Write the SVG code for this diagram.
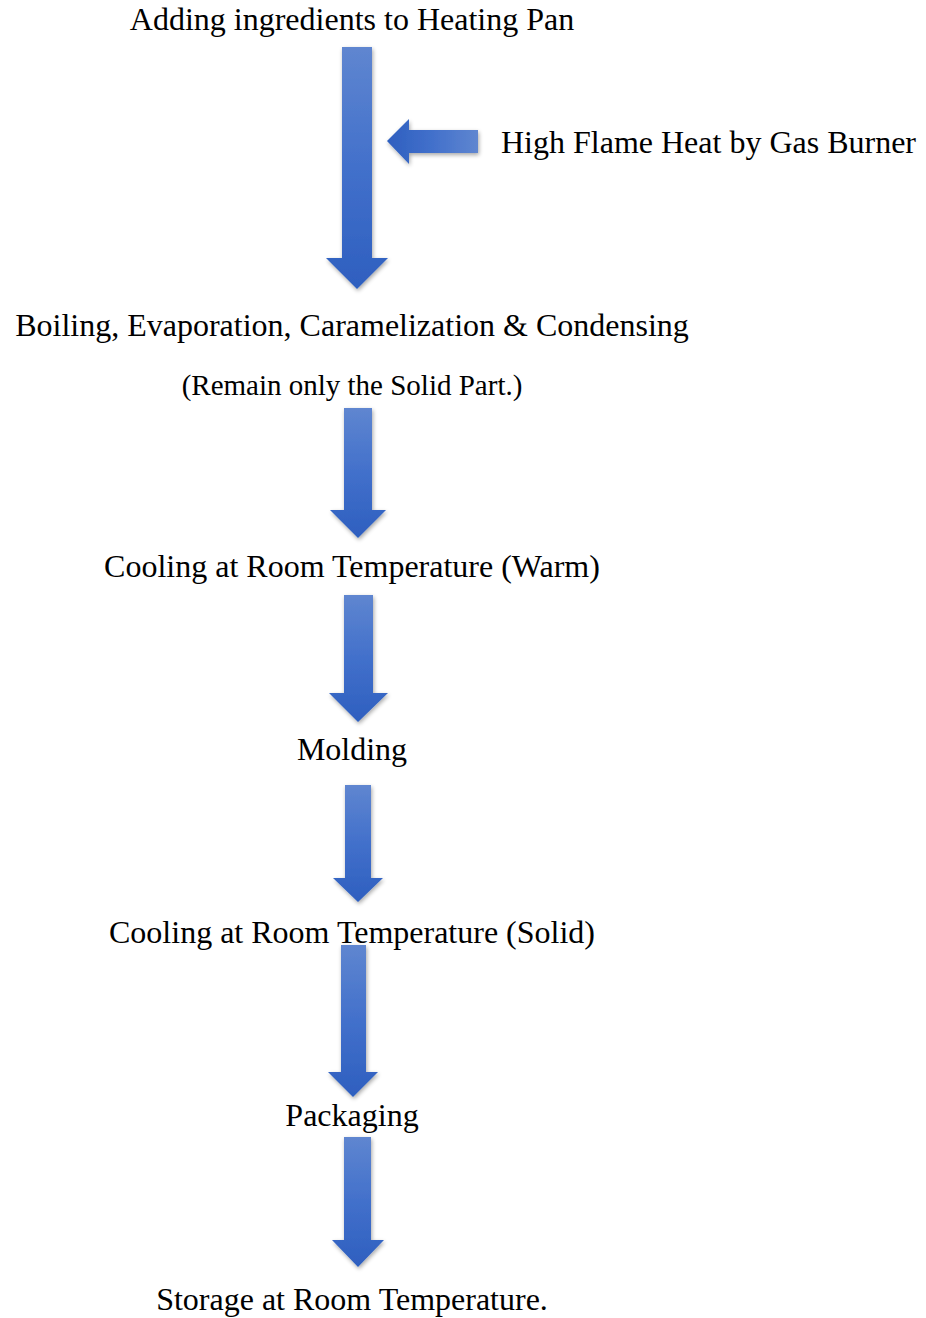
<svg xmlns="http://www.w3.org/2000/svg" width="926" height="1318" viewBox="0 0 926 1318">
  <style>
    .lbl { font-family: "Liberation Serif", "Times New Roman", serif; font-size: 32px; fill: #000; }
    .mid { text-anchor: middle; }
    .small { font-size: 29px; }
    .arrow { fill: url(#downGrad); filter: url(#shadow); }
    .arrowL { fill: url(#leftGrad); filter: url(#shadow); }
  </style>
  <defs>
    <linearGradient id="downGrad" x1="0" y1="0" x2="0" y2="1">
      <stop offset="0" stop-color="#5f86d0"/>
      <stop offset="0.5" stop-color="#4270cb"/>
      <stop offset="1" stop-color="#2e5fbf"/>
    </linearGradient>
    <linearGradient id="leftGrad" x1="1" y1="0" x2="0" y2="0">
      <stop offset="0" stop-color="#5f86d0"/>
      <stop offset="0.5" stop-color="#4270cb"/>
      <stop offset="1" stop-color="#2e5fbf"/>
    </linearGradient>
    <filter id="shadow" x="-30%" y="-10%" width="160%" height="120%">
      <feGaussianBlur in="SourceAlpha" stdDeviation="2"/>
      <feOffset dx="1" dy="2" result="b"/>
      <feComponentTransfer><feFuncA type="linear" slope="0.35"/></feComponentTransfer>
      <feMerge><feMergeNode/><feMergeNode in="SourceGraphic"/></feMerge>
    </filter>
  </defs>

  <g id="connectors">
    <polygon class="arrow" points="342,47 372,47 372,258 388,258 357,289 326,258 342,258"/>
    <polygon class="arrowL" points="478,130 478,153 409,153 409,164 387,141 409,119 409,130"/>
    <polygon class="arrow" points="344,408 372,408 372,510 386,510 358,538 330,510 344,510"/>
    <polygon class="arrow" points="344,595 373,595 373,693 388,693 358,722 329,693 344,693"/>
    <polygon class="arrow" points="345,785 371,785 371,878 383,878 358,902 333,878 345,878"/>
    <polygon class="arrow" points="341,945 366,945 366,1072 378,1072 353,1097 328,1072 341,1072"/>
    <polygon class="arrow" points="344,1137 371,1137 371,1240 384,1240 358,1267 332,1240 344,1240"/>
  </g>

  <g id="node-ingredients"><text class="lbl mid" x="352" y="30">Adding ingredients to Heating Pan</text></g>
  <g id="node-flame"><text class="lbl" x="501" y="153">High Flame Heat by Gas Burner</text></g>
  <g id="node-boiling">
    <text class="lbl mid" x="352" y="336">Boiling, Evaporation, Caramelization &amp; Condensing</text>
    <text class="lbl mid small" x="352" y="395">(Remain only the Solid Part.)</text>
  </g>
  <g id="node-cool-warm"><text class="lbl mid" x="352" y="577">Cooling at Room Temperature (Warm)</text></g>
  <g id="node-molding"><text class="lbl mid" x="352" y="760">Molding</text></g>
  <g id="node-cool-solid"><text class="lbl mid" x="352" y="943">Cooling at Room Temperature (Solid)</text></g>
  <g id="node-packaging"><text class="lbl mid" x="352" y="1126">Packaging</text></g>
  <g id="node-storage"><text class="lbl mid" x="352" y="1310">Storage at Room Temperature.</text></g>
</svg>
